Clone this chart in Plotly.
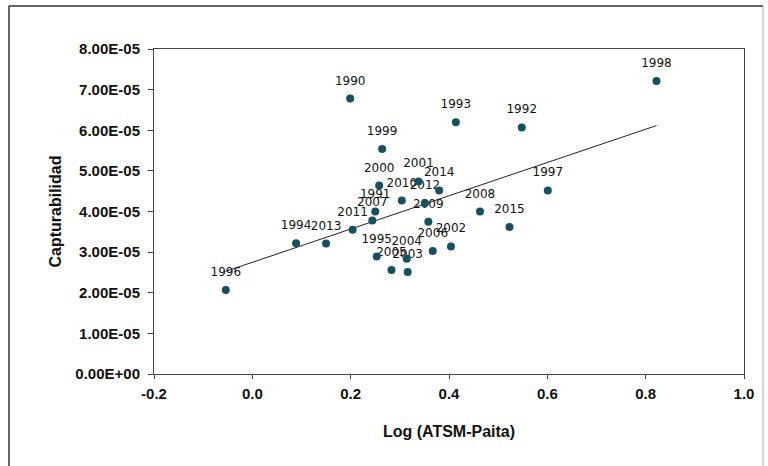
import numpy as np
import plotly.graph_objects as go

years = ["1990", "1991", "1992", "1993", "1994", "1995", "1996", "1997", "1998", "1999",
         "2000", "2001", "2002", "2003", "2004", "2005", "2006", "2007", "2008", "2009",
         "2010", "2011", "2012", "2013", "2014", "2015"]
log_atsm = [0.199, 0.250, 0.548, 0.414, 0.089, 0.253, -0.054, 0.601, 0.822, 0.264,
            0.258, 0.338, 0.404, 0.316, 0.314, 0.283, 0.367, 0.244, 0.463, 0.358,
            0.304, 0.204, 0.351, 0.150, 0.380, 0.523]
captur = [6.78e-5, 4.00e-5, 6.07e-5, 6.20e-5, 3.22e-5, 2.89e-5, 2.07e-5, 4.52e-5, 7.21e-5, 5.54e-5,
          4.64e-5, 4.74e-5, 3.14e-5, 2.51e-5, 2.84e-5, 2.56e-5, 3.03e-5, 3.78e-5, 4.00e-5, 3.75e-5,
          4.27e-5, 3.55e-5, 4.21e-5, 3.21e-5, 4.52e-5, 3.62e-5]

y_tickvals = [0, 1e-5, 2e-5, 3e-5, 4e-5, 5e-5, 6e-5, 7e-5, 8e-5]
y_ticktext = ["0.00E+00", "1.00E-05", "2.00E-05", "3.00E-05", "4.00E-05",
              "5.00E-05", "6.00E-05", "7.00E-05", "8.00E-05"]
x_tickvals = [-0.2, 0.0, 0.2, 0.4, 0.6, 0.8, 1.0]
x_ticktext = ["-0.2", "0.0", "0.2", "0.4", "0.6", "0.8", "1.0"]

# linear trendline (least squares on the data)
slope, intercept = np.polyfit(log_atsm, captur, 1)
xl = [min(log_atsm), max(log_atsm)]
yl = [slope * v + intercept for v in xl]

fig = go.Figure()
fig.add_trace(go.Scatter(x=xl, y=yl, mode="lines",
                         line=dict(color="#222222", width=1), hoverinfo="skip"))
# labels (placed above an invisible, larger marker to get the gap of the original)
fig.add_trace(go.Scatter(
    x=log_atsm, y=captur, mode="markers+text", text=years,
    textposition="top center",
    textfont=dict(family="DejaVu Sans", size=12, color="#111111"),
    marker=dict(color="rgba(0,0,0,0)", size=16),
    hoverinfo="skip",
))
fig.add_trace(go.Scatter(
    x=log_atsm, y=captur, mode="markers",
    marker=dict(color="#17505e", size=8),
))

W, H = 768, 466
L, R, T, B = 154, 24, 49, 92
pw, ph = W - L - R, H - T - B


def px(x):
    return (x - L) / pw


def py(y):
    return (H - B - y) / ph


frame = dict(color="#333333", width=1.5)
fig.add_shape(type="line", xref="paper", yref="paper", x0=px(9), x1=px(9), y0=py(6), y1=py(470), line=frame)
fig.add_shape(type="line", xref="paper", yref="paper", x0=px(9), x1=px(763), y0=py(6), y1=py(6), line=frame)
fig.add_shape(type="line", xref="paper", yref="paper", x0=px(763), x1=px(763), y0=py(6), y1=py(470),
              line=dict(color="#aaaaaa", width=1))

fig.update_layout(
    width=W, height=H,
    margin=dict(l=L, r=R, t=T, b=B),
    paper_bgcolor="white", plot_bgcolor="white",
    showlegend=False,
    font=dict(family="Liberation Sans, Arial", size=12, color="#111111"),
)
fig.update_xaxes(
    range=[-0.2, 1.0], tickvals=x_tickvals, ticktext=x_ticktext,
    showgrid=False, zeroline=False,
    showline=True, linecolor="#444444", linewidth=1, mirror=True,
    ticks="outside", ticklen=4, tickcolor="#444444", ticklabelstandoff=2,
    tickfont=dict(family="Liberation Sans, Arial", size=15, color="#111111", weight="bold"),
    title=dict(text="<b>Log (ATSM-Paita)</b>", standoff=24,
               font=dict(family="Liberation Sans, Arial", size=16, color="#111111")),
)
fig.update_yaxes(
    range=[0, 8e-5], tickvals=y_tickvals, ticktext=y_ticktext,
    showgrid=False, zeroline=False,
    showline=True, linecolor="#444444", linewidth=1, mirror=True,
    ticks="outside", ticklen=5, tickcolor="#444444", ticklabelstandoff=5,
    tickfont=dict(family="Liberation Sans, Arial", size=15, color="#111111", weight="bold"),
    title=dict(text="<b>Capturabilidad</b>", standoff=9,
               font=dict(family="Liberation Sans, Arial", size=16, color="#111111")),
)

fig.write_html("out.html", config={"displayModeBar": False},
               post_script="document.body.style.margin='0';")
